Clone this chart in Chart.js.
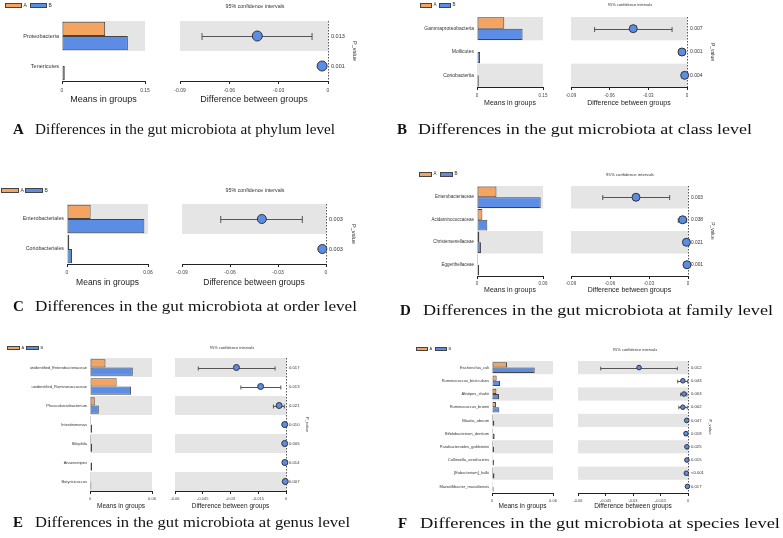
<!DOCTYPE html>
<html>
<head>
<meta charset="utf-8">
<title>Gut microbiota differences</title>
<script src="https://cdn.jsdelivr.net/npm/chart.js"></script>
<style>
body { margin: 0; background: #fff; }
#wrap { position: relative; width: 783px; height: 538px; overflow: hidden; }
#wrap canvas { position: absolute; left: 0; top: 0; }
.lab { position: absolute; font-family: 'Liberation Sans', Arial, sans-serif; color: #333; white-space: nowrap; line-height: 1; }
.box { position: absolute; border: 1px solid #444; box-sizing: border-box; }
.cap { position: absolute; font-family: 'Liberation Serif', 'Times New Roman', serif; font-size: 15px; line-height: 18px; color: #111; white-space: nowrap; transform-origin: 0 50%; }
</style>
</head>
<body>
<div id="wrap"></div>
<script>
// ---- A: phylum ----
const phylumNames = ['Proteobacteria', 'Tenericutes'];
const phylumA = [0.078, 0.001];
const phylumB = [0.119, 0.005];
const phylumDiff = [-0.043, -0.0036];
const phylumLow = [-0.0766, -0.0055];
const phylumHigh = [-0.0097, -0.0015];
const phylumP = ['0.013', '0.001'];
const phylumMeanTicks = ['0', '0.15'];
const phylumDiffTicks = ['-0.09', '-0.06', '-0.03', '0'];

// ---- B: class ----
const classNames = ['Gammaproteobacteria', 'Mollicutes', 'Coriobacteriia'];
const classA = [0.062, 0.001, 0.001];
const classB = [0.1036, 0.0069, 0.004];
const classDiff = [-0.0417, -0.0039, -0.0018];
const classLow = [-0.0717, -0.0055, -0.003];
const classHigh = [-0.0116, -0.0023, -0.0008];
const classP = ['0.007', '0.001', '0.004'];
const classMeanTicks = ['0', '0.15'];
const classDiffTicks = ['-0.09', '-0.06', '-0.03', '0'];

// ---- C: order ----
const orderNames = ['Enterobacteriales', 'Coriobacteriales'];
const orderA = [0.0175, 0.0017];
const orderB = [0.0573, 0.0037];
const orderDiff = [-0.0401, -0.0023];
const orderLow = [-0.0658, -0.0035];
const orderHigh = [-0.0148, -0.001];
const orderP = ['0.003', '0.003'];
const orderMeanTicks = ['0', '0.06'];
const orderDiffTicks = ['-0.09', '-0.06', '-0.03', '0'];

// ---- D: family ----
const familyNames = ['Enterobacteriaceae', 'Acidaminococcaceae', 'Christensenellaceae', 'Eggerthellaceae'];
const familyA = [0.0177, 0.0049, 0.0021, 0.001];
const familyB = [0.0579, 0.0094, 0.0037, 0.002];
const familyDiff = [-0.04, -0.0041, -0.0012, -0.0008];
const familyLow = [-0.0656, -0.0075, -0.0022, -0.0014];
const familyHigh = [-0.0141, -0.001, -0.0003, -0.0003];
const familyP = ['0.003', '0.038', '0.021', '0.001'];
const familyMeanTicks = ['0', '0.06'];
const familyDiffTicks = ['-0.09', '-0.06', '-0.03', '0'];

// ---- E: genus ----
const genusNames = ['unidentified_Enterobacteriaceae', 'unidentified_Ruminococcaceae', 'Phascolarctobacterium',
  'Intestinimonas', 'Bilophila', 'Anaerostipes', 'Butyricicoccus'];
const genusA = [0.015, 0.0258, 0.0046, 0.001, 0.001, 0.0007, 0.0007];
const genusB = [0.0414, 0.0398, 0.0085, 0.002, 0.002, 0.002, 0.0013];
const genusDiff = [-0.0268, -0.0137, -0.0037, -0.0007, -0.0007, -0.0006, -0.0004];
const genusLow = [-0.0474, -0.0244, -0.0068, -0.0012, -0.0012, -0.0011, -0.0008];
const genusHigh = [-0.0059, -0.0028, -0.0009, -0.0002, -0.0002, -0.0002, -0.0001];
const genusP = ['0.017', '0.013', '0.021', '0.010', '0.005', '0.014', '0.007'];
const genusMeanTicks = ['0', '0.06'];
const genusDiffTicks = ['-0.06', '-0.045', '-0.03', '-0.015', '0'];

// ---- F: species ----
const speciesNames = ['Escherichia_coli', 'Ruminococcus_bicirculans', 'Alistipes_shahii', 'Ruminococcus_bromii',
  'Blautia_obeum', 'Bifidobacterium_dentium', 'Parabacteroides_goldsteinii', 'Collinsella_aerofaciens',
  '[Eubacterium]_hallii', 'Marseillibacter_massiliensis'];
const speciesA = [0.0148, 0.0046, 0.0043, 0.0039, 0.001, 0.001, 0.001, 0.0008, 0.001, 0.0008];
const speciesB = [0.042, 0.0079, 0.0069, 0.0072, 0.0023, 0.0026, 0.002, 0.0019, 0.0024, 0.0016];
const speciesDiff = [-0.0267, -0.0028, -0.0022, -0.0028, -0.0007, -0.0011, -0.0006, -0.0006, -0.0009, -0.0003];
const speciesLow = [-0.0476, -0.0056, -0.004, -0.005, -0.0012, -0.0018, -0.001, -0.001, -0.0015, -0.0006];
const speciesHigh = [-0.0058, -0.0002, -0.0006, -0.0004, -0.0003, -0.0004, -0.0002, -0.0002, -0.0003, -0.0001];
const speciesP = ['0.012', '0.043', '0.003', '0.002', '0.047', '0.018', '0.025', '0.015', '<0.001', '0.017'];
const speciesMeanTicks = ['0', '0.06'];
const speciesDiffTicks = ['-0.06', '-0.045', '-0.03', '-0.015', '0'];

const ORANGE = '#F4A460', BLUE = '#5B8DE6', EDGE = '#444', BAND = '#E5E5E5';
const FONT = "'Liberation Sans', Arial, sans-serif";
const W = 783, H = 538;
const wrap = document.getElementById('wrap');

function el(tag, cls, parent) {
  const e = document.createElement(tag);
  if (cls) e.className = cls;
  (parent || wrap).appendChild(e);
  return e;
}

function newCanvas() {
  const c = el('canvas');
  c.width = W; c.height = H;
  return c;
}

function xAxis(ticks, title, p, axisH) {
  return {
    afterBuildTicks(s) { s.ticks = ticks.map(v => ({ value: parseFloat(v) })); },
    afterFit(s) { s.height = axisH; },
    grid: { drawOnChartArea: false, drawTicks: true, tickLength: 3, color: '#222' },
    border: { color: '#222', width: 1 },
    ticks: { font: { size: p.tickSize, family: FONT }, color: '#444', padding: p.tickPad,
      maxRotation: 0, autoSkip: false, callback: (v, i) => ticks[i] },
    title: { display: true, text: title, font: { size: p.titleSize, family: FONT }, color: '#222', padding: 0 }
  };
}

function panel(p) {
  const n = p.names.length;
  const [l, t, r, b] = p.area;
  const axisH = p.axisTitleY + p.titleSize * 0.6 - b;

  const bands = {
    id: 'bands',
    beforeDraw(chart) {
      const y = chart.scales.y, a = chart.chartArea, ctx = chart.ctx;
      ctx.save();
      ctx.fillStyle = BAND;
      for (let i = 0; i < n; i += 2) {
        const y0 = y.getPixelForValue(i - 0.5), y1 = y.getPixelForValue(i + 0.5);
        ctx.fillRect(a.left, y0, a.right - a.left, y1 - y0);
      }
      ctx.restore();
    }
  };

  const ci = {
    id: 'ci',
    beforeDatasetsDraw(chart) {
      const x = chart.scales.x, y = chart.scales.y, a = chart.chartArea, ctx = chart.ctx;
      ctx.save();
      ctx.strokeStyle = '#555';
      ctx.lineWidth = 1;
      ctx.setLineDash([1.5, 1.5]);
      const x0 = Math.round(x.getPixelForValue(0)) + 0.5;
      ctx.beginPath(); ctx.moveTo(x0, a.top); ctx.lineTo(x0, a.bottom); ctx.stroke();
      ctx.setLineDash([]);
      p.lo.forEach((lo, i) => {
        const py = Math.round(y.getPixelForValue(i)) + 0.5;
        const xa = x.getPixelForValue(lo), xb = x.getPixelForValue(p.hi[i]);
        ctx.beginPath();
        ctx.moveTo(xa, py); ctx.lineTo(xb, py);
        ctx.moveTo(xa, py - p.cap); ctx.lineTo(xa, py + p.cap);
        ctx.moveTo(xb, py - p.cap); ctx.lineTo(xb, py + p.cap);
        ctx.stroke();
      });
      ctx.restore();
    }
  };

  // means in groups
  new Chart(newCanvas(), {
    type: 'bar',
    data: {
      labels: p.names,
      datasets: [
        { label: 'A', data: p.a, backgroundColor: ORANGE, borderColor: EDGE, borderWidth: 1, borderSkipped: false },
        { label: 'B', data: p.b, backgroundColor: BLUE, borderColor: EDGE, borderWidth: 1, borderSkipped: false }
      ]
    },
    options: {
      indexAxis: 'y', responsive: false, animation: false, events: [],
      layout: { padding: { left: 0, top: t, right: W - r, bottom: H - b - axisH } },
      datasets: { bar: { categoryPercentage: p.catPct, barPercentage: 1 } },
      plugins: { legend: { display: false }, tooltip: { enabled: false } },
      scales: {
        x: Object.assign({ min: 0, max: parseFloat(p.meanTicks[p.meanTicks.length - 1]) },
          xAxis(p.meanTicks, 'Means in groups', p, axisH)),
        y: {
          grid: { display: false, drawTicks: false }, border: { display: false },
          ticks: { font: { size: p.labelSize, family: FONT }, color: '#333', padding: 3 },
          afterFit(s) { s.width = l; }
        }
      }
    },
    plugins: [bands]
  });

  // difference between groups
  const [dl, dr] = p.diffX;
  new Chart(newCanvas(), {
    type: 'scatter',
    data: {
      datasets: [{
        data: p.diff.map((d, i) => ({ x: d, y: p.names[i] })),
        backgroundColor: BLUE, borderColor: '#333', borderWidth: 1,
        pointRadius: p.radius, clip: false
      }]
    },
    options: {
      responsive: false, animation: false, events: [],
      layout: { padding: { left: dl, top: t, right: W - dr - p.pW, bottom: H - b - axisH } },
      plugins: { legend: { display: false }, tooltip: { enabled: false } },
      scales: {
        x: Object.assign({ type: 'linear', min: parseFloat(p.diffTicks[0]), max: 0 },
          xAxis(p.diffTicks, 'Difference between groups', p, axisH)),
        y: { type: 'category', labels: p.names, offset: true, display: false },
        pv: {
          type: 'category', labels: p.p, offset: true, position: 'right',
          grid: { display: false, drawTicks: false }, border: { display: false },
          ticks: { font: { size: p.pSize, family: FONT }, color: '#333', padding: 3 },
          title: { display: true, text: 'P_value', font: { size: p.pSize, family: FONT }, color: '#333', padding: 0 },
          afterFit(s) { s.width = p.pW; }
        }
      }
    },
    plugins: [bands, ci]
  });

  // legend
  const lg = p.legend;
  [[ORANGE, 'A'], [BLUE, 'B']].forEach(([col, name], k) => {
    const bx = el('div', 'box');
    const x = lg.x + k * (lg.w + lg.gap);
    bx.style.left = x + 'px'; bx.style.top = lg.y + 'px';
    bx.style.width = lg.w + 'px'; bx.style.height = lg.h + 'px';
    bx.style.background = col;
    const tx = el('div', 'lab');
    tx.textContent = name;
    tx.style.fontSize = lg.fs + 'px';
    tx.style.left = (x + lg.w + 1.5) + 'px';
    tx.style.top = (lg.y + lg.h / 2 - lg.fs / 2) + 'px';
  });

  // 95% CI title
  const ct = el('div', 'lab');
  ct.textContent = '95% confidence intervals';
  ct.style.fontSize = p.ciTitle.fs + 'px';
  ct.style.left = p.ciTitle.x + 'px';
  ct.style.top = p.ciTitle.y + 'px';
  ct.style.transform = 'translate(-50%, -50%)';

  // caption
  const c = p.caption;
  const L = el('div', 'cap');
  L.innerHTML = '<b>' + c.letter + '</b>';
  L.style.left = c.letterX + 'px'; L.style.top = (c.y - 9) + 'px';
  const T = el('div', 'cap');
  T.textContent = c.text;
  T.style.left = c.textX + 'px'; T.style.top = (c.y - 9) + 'px';
  const w = T.getBoundingClientRect().width;
  T.style.transform = 'scaleX(' + (c.width / w) + ')';
}

panel({
  names: phylumNames, a: phylumA, b: phylumB, diff: phylumDiff, lo: phylumLow, hi: phylumHigh, p: phylumP,
  meanTicks: phylumMeanTicks, diffTicks: phylumDiffTicks,
  area: [62, 21, 145, 81], diffX: [180, 328], axisTitleY: 100,
  titleSize: 9, tickSize: 5, tickPad: 4, labelSize: 5.5, pSize: 5.5, pW: 30,
  radius: 5, cap: 3.5, catPct: 0.95,
  legend: { x: 5, y: 3, w: 17, h: 5, gap: 8, fs: 5 },
  ciTitle: { x: 255, y: 7, fs: 5.3 },
  caption: { y: 129, letter: 'A', letterX: 13, textX: 35, width: 300, text: 'Differences in the gut microbiota at phylum level' }
});

panel({
  names: classNames, a: classA, b: classB, diff: classDiff, lo: classLow, hi: classHigh, p: classP,
  meanTicks: classMeanTicks, diffTicks: classDiffTicks,
  area: [477, 17, 543, 87], diffX: [571, 687], axisTitleY: 103,
  titleSize: 7, tickSize: 4.5, tickPad: 3, labelSize: 5, pSize: 5, pW: 28,
  radius: 4, cap: 2.5, catPct: 0.97,
  legend: { x: 420, y: 3, w: 12, h: 5, gap: 7, fs: 4.5 },
  ciTitle: { x: 630, y: 5, fs: 4 },
  caption: { y: 129, letter: 'B', letterX: 397, textX: 418, width: 334, text: 'Differences in the gut microbiota at class level' }
});

panel({
  names: orderNames, a: orderA, b: orderB, diff: orderDiff, lo: orderLow, hi: orderHigh, p: orderP,
  meanTicks: orderMeanTicks, diffTicks: orderDiffTicks,
  area: [67, 204, 148, 264], diffX: [182, 326], axisTitleY: 283,
  titleSize: 8.5, tickSize: 5, tickPad: 3, labelSize: 5.3, pSize: 5.5, pW: 31,
  radius: 4.5, cap: 3.5, catPct: 0.95,
  legend: { x: 1, y: 188, w: 18, h: 5, gap: 6, fs: 5 },
  ciTitle: { x: 255, y: 191, fs: 5.3 },
  caption: { y: 306, letter: 'C', letterX: 13, textX: 35, width: 322, text: 'Differences in the gut microbiota at order level' }
});

panel({
  names: familyNames, a: familyA, b: familyB, diff: familyDiff, lo: familyLow, hi: familyHigh, p: familyP,
  meanTicks: familyMeanTicks, diffTicks: familyDiffTicks,
  area: [477, 186, 543, 276], diffX: [571, 688], axisTitleY: 290,
  titleSize: 7, tickSize: 4.5, tickPad: 2, labelSize: 4.5, pSize: 4.8, pW: 27,
  radius: 4, cap: 2.5, catPct: 0.95,
  legend: { x: 419, y: 172, w: 13, h: 5, gap: 8, fs: 4.5 },
  ciTitle: { x: 630, y: 175, fs: 4.3 },
  caption: { y: 310, letter: 'D', letterX: 400, textX: 423, width: 350, text: 'Differences in the gut microbiota at family level' }
});

panel({
  names: genusNames, a: genusA, b: genusB, diff: genusDiff, lo: genusLow, hi: genusHigh, p: genusP,
  meanTicks: genusMeanTicks, diffTicks: genusDiffTicks,
  area: [90, 358, 152, 491], diffX: [175, 286], axisTitleY: 506,
  titleSize: 6.5, tickSize: 4, tickPad: 2, labelSize: 4, pSize: 4.2, pW: 24,
  radius: 3, cap: 2, catPct: 0.88,
  legend: { x: 7, y: 346, w: 13, h: 4, gap: 6, fs: 4 },
  ciTitle: { x: 232, y: 348, fs: 4 },
  caption: { y: 522, letter: 'E', letterX: 13, textX: 35, width: 315, text: 'Differences in the gut microbiota at genus level' }
});

panel({
  names: speciesNames, a: speciesA, b: speciesB, diff: speciesDiff, lo: speciesLow, hi: speciesHigh, p: speciesP,
  meanTicks: speciesMeanTicks, diffTicks: speciesDiffTicks,
  area: [492, 361, 553, 493], diffX: [578, 688], axisTitleY: 506,
  titleSize: 6.5, tickSize: 4, tickPad: 2, labelSize: 4, pSize: 4.2, pW: 25,
  radius: 2.3, cap: 1.8, catPct: 0.8,
  legend: { x: 416, y: 347, w: 12, h: 4, gap: 7, fs: 4 },
  ciTitle: { x: 635, y: 350, fs: 4 },
  caption: { y: 523, letter: 'F', letterX: 398, textX: 420, width: 360, text: 'Differences in the gut microbiota at species level' }
});
</script>
</body>
</html>
